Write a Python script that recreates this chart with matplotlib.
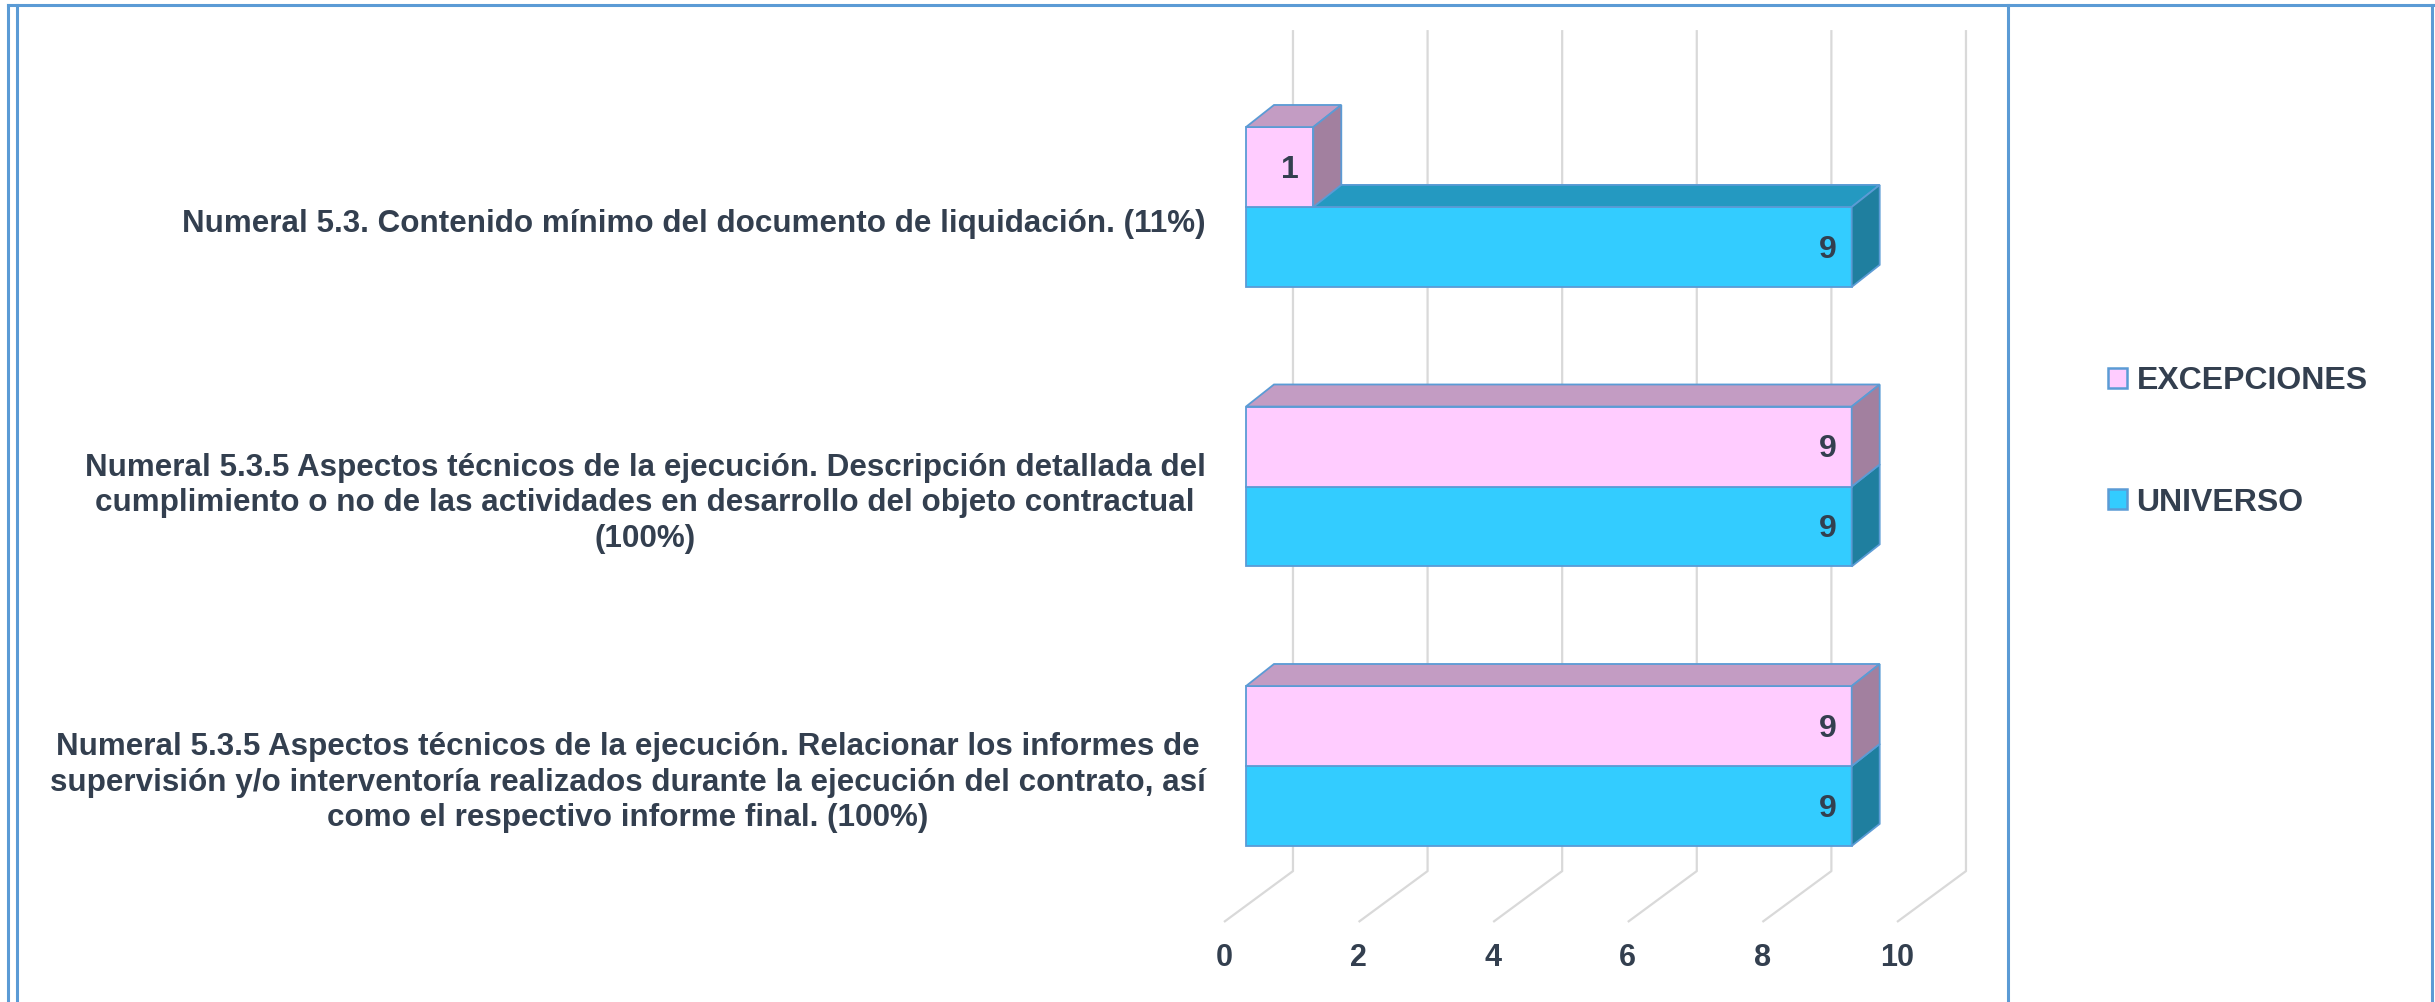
import matplotlib.pyplot as plt
from matplotlib.lines import Line2D
from matplotlib.patches import Patch

# --- datos ---
categorias = [
    "Numeral 5.3. Contenido mínimo del documento de liquidación. (11%)",
    "Numeral 5.3.5 Aspectos técnicos de la ejecución. Descripción detallada del\n"
    "cumplimiento o no de las actividades en desarrollo del objeto contractual\n(100%)",
    "Numeral 5.3.5 Aspectos técnicos de la ejecución. Relacionar los informes de\n"
    "supervisión y/o interventoría realizados durante la ejecución del contrato, así\n"
    "como el respectivo informe final. (100%)",
]
excepciones = [1, 9, 9]
universo = [9, 9, 9]
ticks_x = [0, 2, 4, 6, 8, 10]

# --- estilo ---
TXT = "#333F4F"
BORDE = "#5B9BD5"
GRID = "#D9D9D9"
COL_EXC = ("#FFCCFF", "#C39CC3", "#A2809F")   # frente, arriba, lado
COL_UNI = ("#33CCFF", "#2499C1", "#1F7F9F")

plt.rcParams['font.family'] = ['Liberation Sans', 'DejaVu Sans']
plt.rcParams['font.weight'] = 'bold'

W, H = 2435, 1002
fig = plt.figure(figsize=(W / 100, H / 100), dpi=100)

# eje = plano frontal de las barras (0..10 en x, categorias en y)
ax = fig.add_axes([1246 / W, 1 - 905.75 / H, 673 / W, 838.5 / H])
ax.set_xlim(0, 10)
ax.set_ylim(2.5, -0.5)
ax.axis('off')

# desplazamientos de perspectiva (unidades de datos)
ddx, ddy = 0.416, -0.079      # profundidad de la barra
wdx, wdy = 0.698, -0.125      # pared del fondo
fdx, fdy = -0.327, 0.057      # borde frontal del piso
alto = 0.286                  # alto de cada barra
g_top, g_bot = -0.633, 2.376  # lineas de la pared

# lineas de cuadricula (pared + piso)
for k in ticks_x:
    ax.plot([k + wdx, k + wdx, k + fdx], [g_top, g_bot, g_bot + (fdy - wdy)],
            color=GRID, lw=1.6, zorder=0, clip_on=False, solid_capstyle='butt')
    ax.text(k + fdx, 2.687, str(k), ha='center', va='center', fontsize=22,
            color=TXT, fontweight='bold')


def barra3d(v, c0, cols):
    kw = dict(edgecolor=BORDE, linewidth=1.3, clip_on=False, zorder=2)
    ax.fill([0, v, v, 0], [c0, c0, c0 + alto, c0 + alto], facecolor=cols[0], **kw)
    ax.fill([0, v, v + ddx, ddx], [c0, c0, c0 + ddy, c0 + ddy], facecolor=cols[1], **kw)
    ax.fill([v, v + ddx, v + ddx, v], [c0, c0 + ddy, c0 + alto + ddy, c0 + alto],
            facecolor=cols[2], **kw)
    ax.text(v - 0.22, c0 + alto / 2 + 0.01, f"{v:g}", ha='right', va='center',
            fontsize=23, color=TXT, fontweight='bold', zorder=3)


for i, cat in enumerate(categorias):
    barra3d(universo[i], i, COL_UNI)
    barra3d(excepciones[i], i - alto, COL_EXC)
    ax.text(-0.6, i + 0.06, cat, ha='right', va='center', multialignment='center',
            fontsize=22.6, color=TXT, fontweight='bold', linespacing=1.24)

# leyenda
handles = [Patch(facecolor=COL_EXC[0], edgecolor=BORDE, linewidth=1.8),
           Patch(facecolor=COL_UNI[0], edgecolor=BORDE, linewidth=1.8)]
leg = fig.legend(handles, ["EXCEPCIONES", "UNIVERSO"], loc='center left',
                 bbox_to_anchor=(2079 / W, 1 - 442 / H), frameon=False,
                 fontsize=23, handlelength=0.6, handleheight=0.6,
                 handletextpad=0.3, labelspacing=2.85)
for t in leg.get_texts():
    t.set_color(TXT)
    t.set_fontweight('bold')

# marco azul
def linea(x0, y0, x1, y1):
    fig.add_artist(Line2D([x0 / W, x1 / W], [1 - y0 / H, 1 - y1 / H],
                          transform=fig.transFigure, color=BORDE, lw=2.2))

linea(8, 5, 2433, 5)
linea(8, 5, 8, H)
linea(17, 5, 17, H)
linea(2008, 5, 2008, H)
linea(2432, 5, 2432, H)

fig.savefig("out.png", dpi=100, facecolor='white')
